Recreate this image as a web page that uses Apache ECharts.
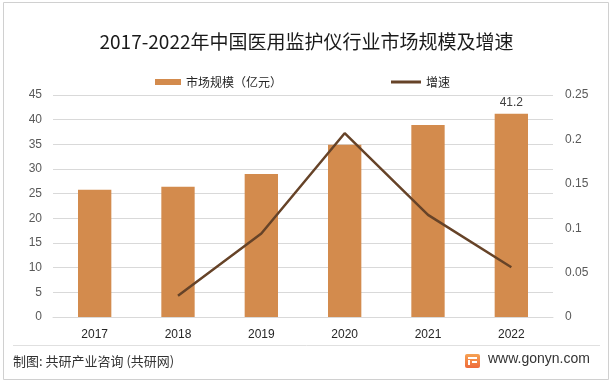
<!DOCTYPE html>
<html>
<head>
<meta charset="utf-8">
<script src="https://cdn.jsdelivr.net/npm/echarts@6/dist/echarts.min.js"></script>
<style>
html,body{margin:0;padding:0;background:#fff;}
#chart{width:613px;height:384px;}
</style>
</head>
<body>
<div id="chart"></div>
<script>
var years = ['2017', '2018', '2019', '2020', '2021', '2022'];
var marketSize = [25.8, 26.4, 29.0, 34.9, 38.9, 41.2];
var growth = [null, 0.024, 0.094, 0.207, 0.115, 0.056];
var leftTicks = [0, 5, 10, 15, 20, 25, 30, 35, 40, 45];
var rightTicks = [0, 0.05, 0.1, 0.15, 0.2, 0.25];

var CJK = '"Noto Sans CJK SC", "Microsoft YaHei", sans-serif';
var chart = echarts.init(document.getElementById('chart'), null, {renderer: 'canvas'});
chart.setOption({
  animation: false,
  backgroundColor: '#ffffff',
  title: {
    text: '2017-2022年中国医用监护仪行业市场规模及增速',
    left: 'center',
    top: 27,
    textStyle: {fontFamily: CJK, fontSize: 19, fontWeight: 'normal', color: '#1a1a1a'}
  },
  legend: [{
    data: ['市场规模（亿元）'],
    left: 150, top: 71,
    itemWidth: 26, itemHeight: 6,
    icon: 'rect',
    textStyle: {fontFamily: CJK, fontSize: 12, color: '#262626'}
  }, {
    data: [{name: '增速', icon: 'rect'}],
    left: 386, top: 71,
    itemWidth: 30, itemHeight: 3,
    textStyle: {fontFamily: CJK, fontSize: 12, color: '#262626'}
  }],
  grid: {left: 53, right: 60, top: 95, bottom: 67},
  xAxis: {
    type: 'category',
    data: years,
    axisLine: {show: true, lineStyle: {color: '#d9d9d9'}},
    axisTick: {show: false},
    axisLabel: {margin: 12, fontFamily: '"Liberation Sans", Arial, sans-serif', fontSize: 12, color: '#262626'}
  },
  yAxis: [{
    type: 'value',
    min: 0, max: 45, interval: 5,
    axisLine: {show: false},
    axisTick: {show: false},
    splitLine: {lineStyle: {color: '#d9d9d9', width: 1}},
    axisLabel: {margin: 11, fontFamily: '"Liberation Sans", Arial, sans-serif', fontSize: 12, color: '#595959',
      formatter: function (v) { return leftTicks.indexOf(v) >= 0 ? String(v) : ''; }}
  }, {
    type: 'value',
    min: 0, max: 0.25, interval: 0.05,
    axisLine: {show: false},
    axisTick: {show: false},
    splitLine: {show: false},
    axisLabel: {margin: 12, fontFamily: '"Liberation Sans", Arial, sans-serif', fontSize: 12, color: '#595959',
      formatter: function (v) {
        for (var i = 0; i < rightTicks.length; i++) {
          if (Math.abs(rightTicks[i] - v) < 1e-9) return String(rightTicks[i]);
        }
        return '';
      }}
  }],
  series: [{
    name: '市场规模（亿元）',
    type: 'bar',
    data: marketSize.map(function (v, i) {
      return i === marketSize.length - 1
        ? {value: v, label: {show: true, position: 'top', distance: 5, color: '#404040', fontSize: 12, fontFamily: '"Liberation Sans", Arial, sans-serif'}}
        : v;
    }),
    barWidth: '40%',
    itemStyle: {color: '#D38B4D'},
    yAxisIndex: 0
  }, {
    name: '增速',
    type: 'line',
    data: growth,
    yAxisIndex: 1,
    symbol: 'none',
    showSymbol: false,
    connectNulls: false,
    lineStyle: {color: '#664328', width: 2.5},
    itemStyle: {color: '#664328'}
  }],
  graphic: [
    {type: 'rect', shape: {x: 3.5, y: 2.5, width: 605, height: 377}, style: {fill: 'none', stroke: '#d0d0d0', lineWidth: 1}, silent: true},
    {type: 'line', shape: {x1: 13, y1: 345.5, x2: 600, y2: 345.5}, style: {stroke: '#e0e0e0', lineWidth: 1}, silent: true},
    {type: 'text', left: 13, top: 355, style: {text: '制图: 共研产业咨询 (共研网)', font: 'normal 13px ' + CJK, fill: '#333333'}},
    {type: 'rect', shape: {x: 465, y: 354, width: 15, height: 14, r: 2},
      style: {fill: new echarts.graphic.LinearGradient(0, 0, 0, 1, [{offset: 0, color: '#F6A253'}, {offset: 1, color: '#EE6A3A'}])}},
    {type: 'rect', shape: {x: 468, y: 357, width: 9, height: 2}, style: {fill: '#ffffff'}},
    {type: 'rect', shape: {x: 468, y: 360, width: 2, height: 5}, style: {fill: '#ffffff'}},
    {type: 'rect', shape: {x: 472, y: 361, width: 5, height: 2}, style: {fill: '#ffffff'}},
    {type: 'text', left: 488, top: 352, style: {text: 'www.gonyn.com', font: '14px "Liberation Sans", Arial, sans-serif', fill: '#333333'}}
  ]
});
</script>
</body>
</html>
